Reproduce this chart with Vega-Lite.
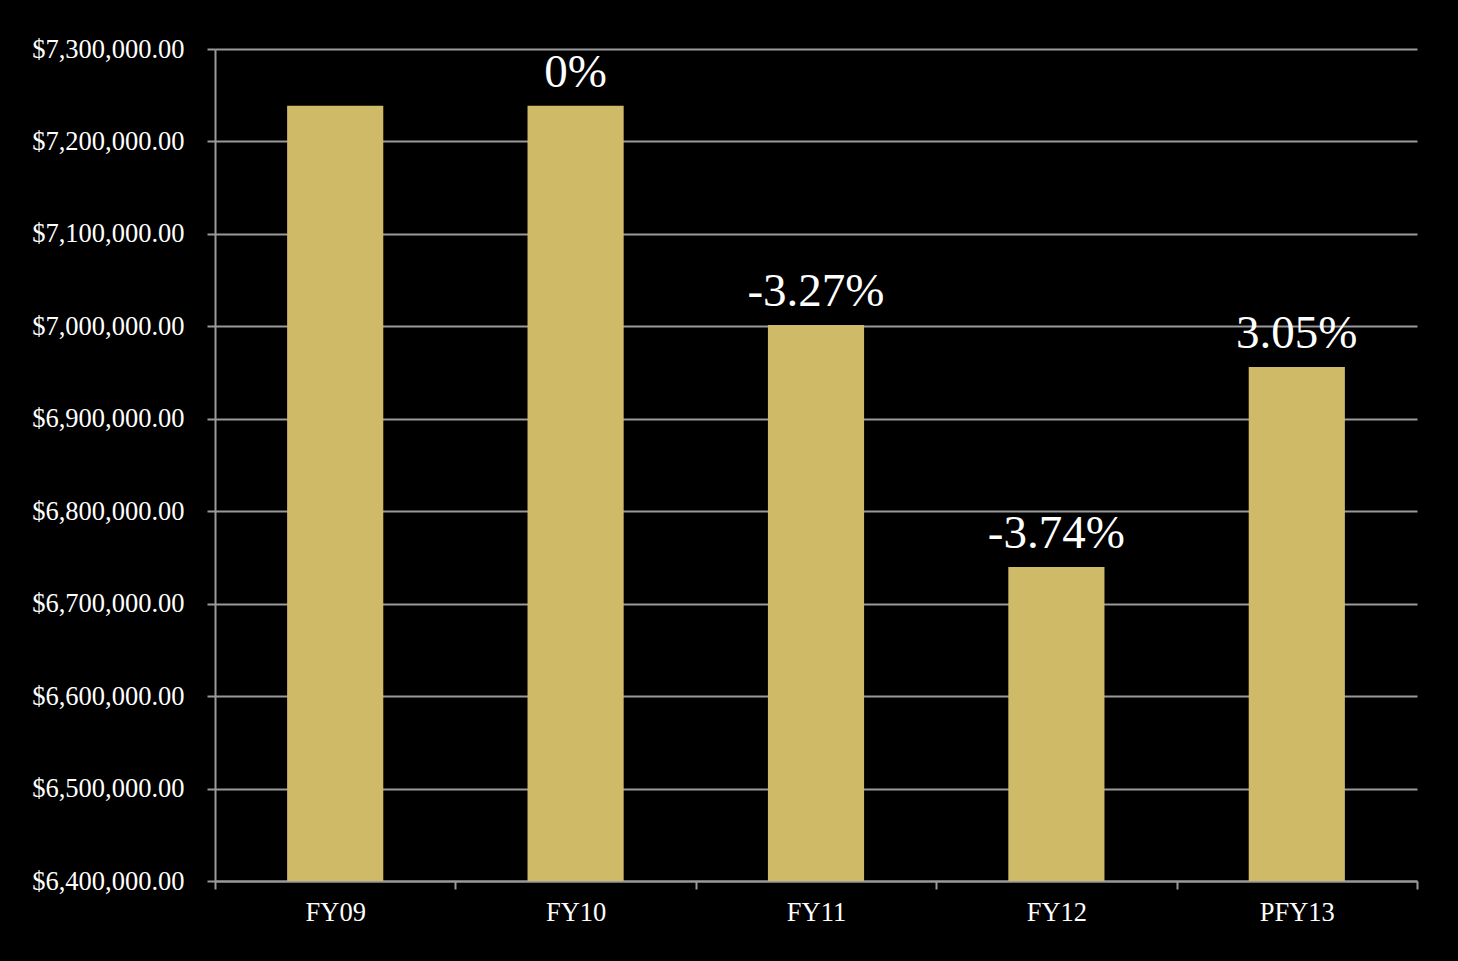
{
  "$schema": "https://vega.github.io/schema/vega-lite/v6.json",
  "width": 1202,
  "height": 832,
  "autosize": {"type": "none"},
  "padding": {"left": 215, "top": 49, "right": 41, "bottom": 80},
  "background": "#000000",
  "config": {
    "view": {"stroke": null},
    "font": "Liberation Serif"
  },
  "data": {
    "values": [
      {"year": "FY09", "amount": 7238500, "label": ""},
      {"year": "FY10", "amount": 7238500, "label": "0%"},
      {"year": "FY11", "amount": 7001500, "label": "-3.27%"},
      {"year": "FY12", "amount": 6739700, "label": "-3.74%"},
      {"year": "PFY13", "amount": 6956000, "label": "3.05%"}
    ]
  },
  "encoding": {
    "x": {
      "field": "year",
      "type": "nominal",
      "sort": null,
      "scale": {"paddingInner": 0, "paddingOuter": 0},
      "axis": {
        "title": null,
        "labelAngle": 0,
        "labelColor": "#ffffff",
        "labelFont": "Liberation Serif",
        "labelFontSize": 26.5,
        "labelPadding": 10,
        "domainColor": "#9a9a9a",
        "domainWidth": 2,
        "tickColor": "#9a9a9a",
        "tickWidth": 2,
        "tickSize": 8,
        "tickBand": "extent",
        "grid": false
      }
    },
    "y": {
      "field": "amount",
      "type": "quantitative",
      "scale": {"domain": [6400000, 7300000], "zero": false, "nice": false},
      "axis": {
        "title": null,
        "values": [6400000, 6500000, 6600000, 6700000, 6800000, 6900000, 7000000, 7100000, 7200000, 7300000],
        "format": "$,.2f",
        "labelColor": "#ffffff",
        "labelFont": "Liberation Serif",
        "labelFontSize": 26.5,
        "labelPadding": 23,
        "domainColor": "#9a9a9a",
        "domainWidth": 2,
        "tickColor": "#9a9a9a",
        "tickWidth": 2,
        "tickSize": 8,
        "grid": true,
        "gridColor": "#9a9a9a",
        "gridWidth": 2
      }
    }
  },
  "layer": [
    {
      "mark": {"type": "bar", "color": "#CFBA68", "clip": true, "width": {"band": 0.4}},
      "encoding": {"y2": {"datum": 6400000}}
    },
    {
      "mark": {
        "type": "text",
        "color": "#ffffff",
        "font": "Liberation Serif",
        "fontSize": 47,
        "baseline": "alphabetic",
        "dy": -19
      },
      "encoding": {"text": {"field": "label"}}
    }
  ]
}
